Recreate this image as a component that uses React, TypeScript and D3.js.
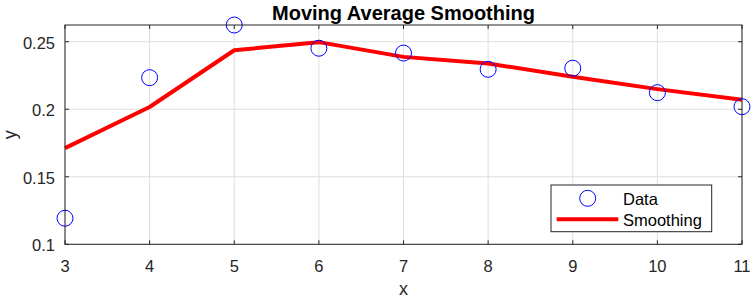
import React from "react";
import * as d3 from "d3";

const xs = [3, 4, 5, 6, 7, 8, 9, 10, 11];
const dataY = [0.1193, 0.2234, 0.2624, 0.2452, 0.2416, 0.2296, 0.2304, 0.2123, 0.2019];
const smoothY = [0.1712, 0.2017, 0.2437, 0.2497, 0.2388, 0.2339, 0.2241, 0.2149, 0.2071];
const xTicks = [3, 4, 5, 6, 7, 8, 9, 10, 11];
const yTicks = [0.1, 0.15, 0.2, 0.25];
const yTickLabels = ["0.1", "0.15", "0.2", "0.25"];
const legendLabels = ["Data", "Smoothing"];

export default function App() {
  const W = 754, H = 300;
  const L = 65, R = 742, T = 25, B = 244.3;
  const x = d3.scaleLinear().domain([3, 11]).range([L, R]);
  const y = d3.scaleLinear().domain([0.1, 0.2624]).range([B, T]);
  const line = d3.line<number>().x((_, i) => x(xs[i])).y((d) => y(d));
  const font = "Liberation Sans, Arial, Helvetica, sans-serif";
  const tc = "#262626";
  const tl = 4;
  return (
    <svg width={W} height={H} style={{ position: "absolute", left: 0, top: 0 }} fontFamily={font}>
      <rect x={0} y={0} width={W} height={H} fill="#fff" />
      {xTicks.map((t) => (
        <line key={"gx" + t} x1={x(t)} x2={x(t)} y1={T} y2={B} stroke="#dfdfdf" strokeWidth={1} />
      ))}
      {yTicks.map((t) => (
        <line key={"gy" + t} x1={L} x2={R} y1={y(t)} y2={y(t)} stroke="#dfdfdf" strokeWidth={1} />
      ))}
      <path d={line(smoothY) || ""} fill="none" stroke="#ff0000" strokeWidth={4} strokeLinejoin="round" />
      {dataY.map((v, i) => (
        <circle key={"c" + i} cx={x(xs[i])} cy={y(v)} r={8} fill="none" stroke="#0000ff" strokeWidth={1} />
      ))}
      <rect x={L} y={T} width={R - L} height={B - T} fill="none" stroke={tc} strokeWidth={1} />
      {xTicks.map((t) => (
        <g key={"tx" + t}>
          <line x1={x(t)} x2={x(t)} y1={B} y2={B - tl} stroke={tc} />
          <line x1={x(t)} x2={x(t)} y1={T} y2={T + tl} stroke={tc} />
          <text x={x(t)} y={271.5} textAnchor="middle" fontSize={16.5} fill={tc}>{t}</text>
        </g>
      ))}
      {yTicks.map((t, i) => (
        <g key={"ty" + t}>
          <line x1={L} x2={L + tl} y1={y(t)} y2={y(t)} stroke={tc} />
          <line x1={R} x2={R - tl} y1={y(t)} y2={y(t)} stroke={tc} />
          <text x={L - 10} y={y(t) + 7} textAnchor="end" fontSize={16.5} fill={tc}>{yTickLabels[i]}</text>
        </g>
      ))}
      <text x={(L + R) / 2} y={295} textAnchor="middle" fontSize={18} fill={tc}>x</text>
      <text transform={`translate(16,${(T + B) / 2}) rotate(-90)`} textAnchor="middle" fontSize={18} fill={tc}>y</text>
      <text x={(L + R) / 2} y={20} textAnchor="middle" fontSize={20} fontWeight="bold" fill="#000">Moving Average Smoothing</text>
      <rect x={551} y={185} width={160.7} height={46.7} fill="#fff" stroke={tc} strokeWidth={1} />
      <circle cx={587.7} cy={198.3} r={8} fill="none" stroke="#0000ff" strokeWidth={1} />
      <line x1={556.7} x2={618.3} y1={219.3} y2={219.3} stroke="#ff0000" strokeWidth={4} />
      <text x={623} y={205} fontSize={16.5} fill="#000">{legendLabels[0]}</text>
      <text x={623} y={225.5} fontSize={16.5} fill="#000">{legendLabels[1]}</text>
    </svg>
  );
}
